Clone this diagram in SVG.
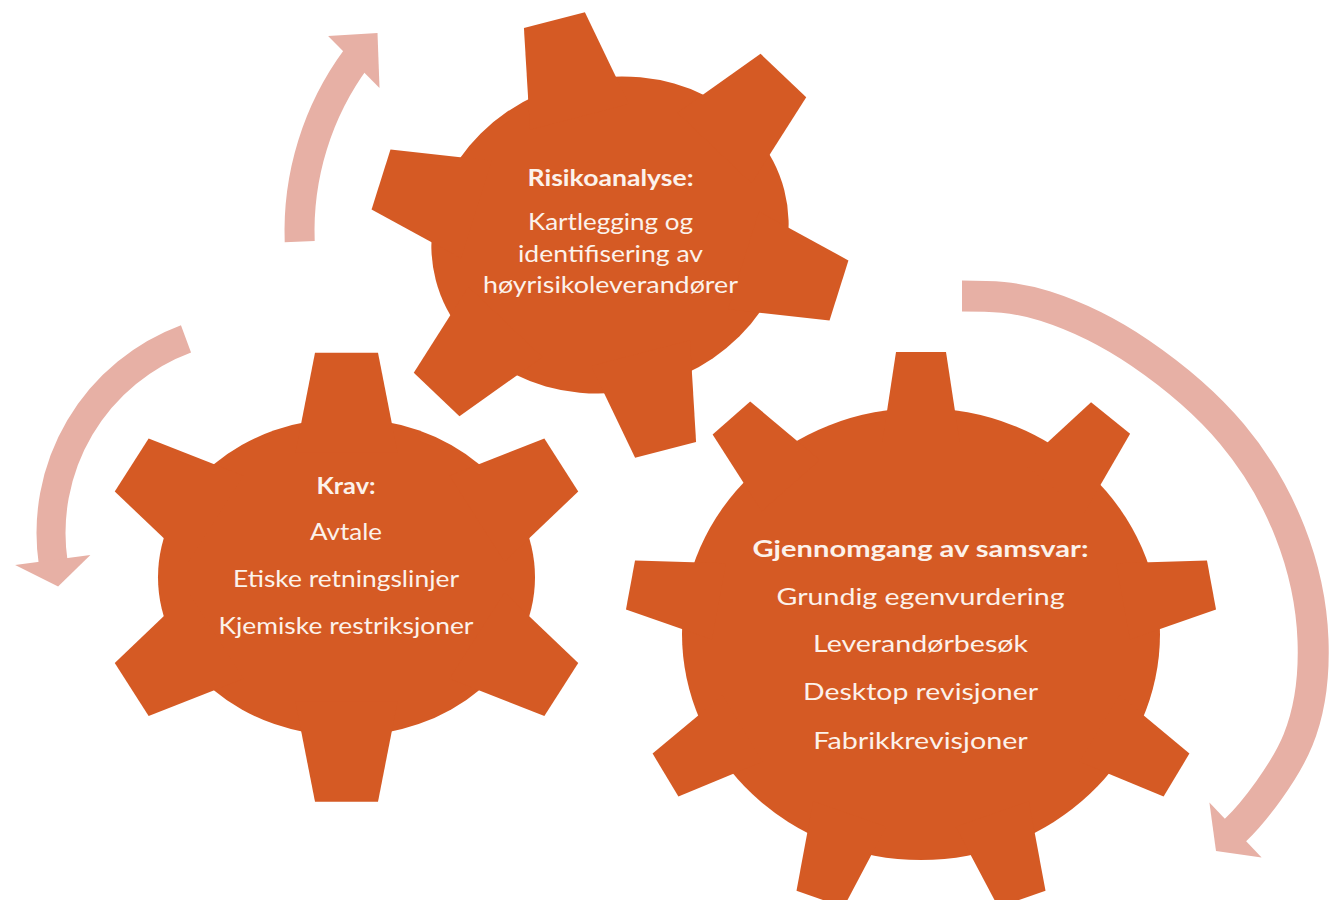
<svg xmlns="http://www.w3.org/2000/svg" width="1329" height="900" viewBox="0 0 1329 900">
<style>
.gear{fill:#D55A24}
.band{fill:none;stroke:#E7B0A5;stroke-linecap:butt}
.head{fill:#E7B0A5}
text{font-family:Lato,"Open Sans","Liberation Sans",sans-serif;font-size:23.5px;fill:#FCF2EB;text-anchor:middle}
.h{font-weight:700}
</style>
<defs>
<polygon id="t6" points="-31.5,0 31.5,0 51.1,100 -51.1,100"/>
<polygon id="t9" points="-25,0 25,0 38.7,90 -38.7,90"/>
</defs>
<rect width="1329" height="900" fill="#FFFFFF"/>

<g id="connectors">
<g id="arrow-krav-to-risiko">
<path class="band" stroke-width="30" d="M299.7,241.6 A290.5,290.5 0 0 1 356.5,58.2"/>
<polygon class="head" points="328.1,36 377.5,32.9 379.5,87.9"/>
</g>
<g id="arrow-risiko-to-samsvar">
<path class="band" stroke-width="31" d="M962,296 C990,296 1015.3,296.5 1045,306 C1074.7,315.5 1108.8,331.7 1140,353 C1171.2,374.3 1207,404.2 1232,434 C1257,463.8 1276.5,497.7 1290,532 C1303.5,566.3 1311.7,605.3 1313,640 C1314.3,674.7 1310.9,708.3 1298,740 C1285.1,771.7 1253.7,812.8 1235.5,830 l-2.2,2.1"/>
<polygon class="head" points="1209.4,802.4 1261.6,857.6 1216,851"/>
</g>
<g id="arrow-samsvar-to-krav">
<path class="band" stroke-width="29" d="M186,338.9 A207,207 0 0 0 53.3,563.6"/>
<polygon class="head" points="15.1,565 90.4,555.1 58.1,586.6"/>
</g>
</g>

<g id="gear-risikoanalyse">
<g class="gear" transform="translate(610,235) rotate(-14.5)">
<ellipse rx="180" ry="157"/>
<use href="#t6" transform="translate(0,-222)"/>
<use href="#t6" transform="translate(207.8,-111) rotate(58.03)"/>
<use href="#t6" transform="translate(207.8,111) rotate(121.97)"/>
<use href="#t6" transform="translate(0,222) rotate(180)"/>
<use href="#t6" transform="translate(-207.8,111) rotate(238.03)"/>
<use href="#t6" transform="translate(-207.8,-111) rotate(301.97)"/>
</g>
<text class="h" x="610.5" y="186" textLength="166" lengthAdjust="spacingAndGlyphs">Risikoanalyse:</text>
<text x="610.5" y="230" textLength="165" lengthAdjust="spacingAndGlyphs">Kartlegging og</text>
<text x="610.5" y="261.5" textLength="185" lengthAdjust="spacingAndGlyphs">identifisering av</text>
<text x="610.5" y="293" textLength="255" lengthAdjust="spacingAndGlyphs">høyrisikoleverandører</text>
</g>

<g id="gear-krav">
<g class="gear" transform="translate(346.5,577.2)">
<ellipse rx="188.5" ry="159"/>
<use href="#t6" transform="translate(0,-224.5)"/>
<use href="#t6" transform="translate(214.8,-112.25) rotate(57.47)"/>
<use href="#t6" transform="translate(214.8,112.25) rotate(122.53)"/>
<use href="#t6" transform="translate(0,224.5) rotate(180)"/>
<use href="#t6" transform="translate(-214.8,112.25) rotate(237.47)"/>
<use href="#t6" transform="translate(-214.8,-112.25) rotate(302.53)"/>
</g>
<text class="h" x="346" y="494" textLength="59" lengthAdjust="spacingAndGlyphs">Krav:</text>
<text x="346" y="540" textLength="72" lengthAdjust="spacingAndGlyphs">Avtale</text>
<text x="346" y="587" textLength="226" lengthAdjust="spacingAndGlyphs">Etiske retningslinjer</text>
<text x="346" y="633.5" textLength="255" lengthAdjust="spacingAndGlyphs">Kjemiske restriksjoner</text>
</g>

<g id="gear-samsvar">
<g class="gear" transform="translate(921,634)">
<ellipse rx="239" ry="226"/>
<use href="#t9" transform="translate(0,-282)"/>
<use href="#t9" transform="translate(189.6,-216) rotate(38.7)"/>
<use href="#t9" transform="translate(290.5,-49) rotate(79.55)"/>
<use href="#t9" transform="translate(255.5,141) rotate(121.1)"/>
<use href="#t9" transform="translate(100.9,265) rotate(160.8)"/>
<use href="#t9" transform="translate(-100.9,265) rotate(199.2)"/>
<use href="#t9" transform="translate(-255.5,141) rotate(238.9)"/>
<use href="#t9" transform="translate(-290.5,-49) rotate(280.45)"/>
<use href="#t9" transform="translate(-189.6,-216) rotate(318.7)"/>
</g>
<text class="h" x="920.5" y="557" textLength="336" lengthAdjust="spacingAndGlyphs">Gjennomgang av samsvar:</text>
<text x="920.5" y="604.5" textLength="288" lengthAdjust="spacingAndGlyphs">Grundig egenvurdering</text>
<text x="920.5" y="652" textLength="215" lengthAdjust="spacingAndGlyphs">Leverandørbesøk</text>
<text x="920.5" y="700" textLength="235" lengthAdjust="spacingAndGlyphs">Desktop revisjoner</text>
<text x="920.5" y="748.5" textLength="214.5" lengthAdjust="spacingAndGlyphs">Fabrikkrevisjoner</text>
</g>
</svg>
